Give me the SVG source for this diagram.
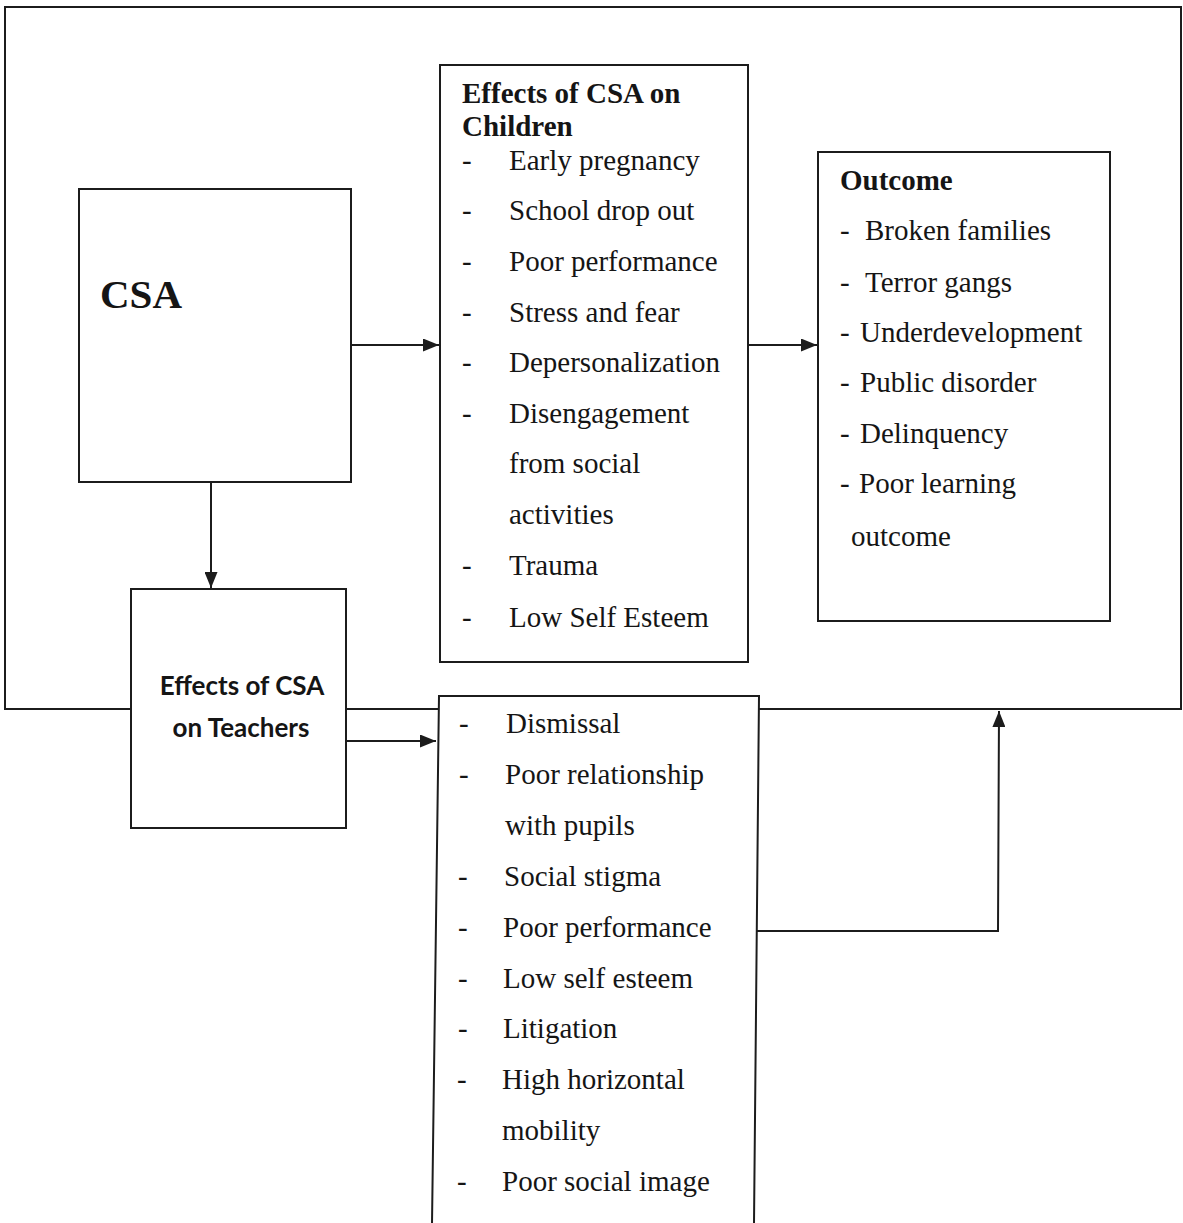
<svg xmlns="http://www.w3.org/2000/svg" width="1183" height="1223" viewBox="0 0 1183 1223">
<style>
.box{fill:#fff;stroke:#1c1c1c;stroke-width:2}
.ln{fill:none;stroke:#1c1c1c;stroke-width:2}
.t{font-family:"Liberation Serif","Times New Roman",serif;font-size:29px;fill:#151515}
.b{font-weight:bold}
.s{font-family:Lato,"Open Sans",sans-serif;font-weight:bold;font-size:26px;fill:#151515}
</style>
<defs>
<marker id="ah" viewBox="0 0 16 13" refX="16" refY="6.5" markerWidth="16" markerHeight="13" markerUnits="userSpaceOnUse" orient="auto">
<path d="M0,0 L16,6.5 L0,13 Z" fill="#1c1c1c"/>
</marker>
</defs>
<rect width="1183" height="1223" fill="#fff"/>
<rect id="frame" class="ln" x="5" y="7" width="1176" height="702"/>
<g id="connectors">
<line class="ln" x1="351" y1="345" x2="439" y2="345" marker-end="url(#ah)"/>
<line class="ln" x1="748" y1="345" x2="817" y2="345" marker-end="url(#ah)"/>
<line class="ln" x1="211" y1="482" x2="211" y2="588" marker-end="url(#ah)"/>
<line class="ln" x1="346" y1="741" x2="436" y2="741" marker-end="url(#ah)"/>
<path class="ln" d="M756,931 L998,931 L999,711" marker-end="url(#ah)"/>
</g>
<g id="csa">
<rect class="box" x="79" y="189" width="272" height="293"/>
<text class="t b" x="100" y="308" style="font-size:41px">CSA</text>
</g>
<g id="children">
<rect class="box" x="440" y="65" width="308" height="597"/>
<text class="t b" x="462" y="103">Effects of CSA on</text>
<text class="t b" x="462" y="136">Children</text>
<g class="t">
<text x="462" y="170">-</text><text x="509" y="170">Early pregnancy</text>
<text x="462" y="220">-</text><text x="509" y="220">School drop out</text>
<text x="462" y="271">-</text><text x="509" y="271">Poor performance</text>
<text x="462" y="322">-</text><text x="509" y="322">Stress and fear</text>
<text x="462" y="372">-</text><text x="509" y="372">Depersonalization</text>
<text x="462" y="423">-</text><text x="509" y="423">Disengagement</text>
<text x="509" y="473">from social</text>
<text x="509" y="524">activities</text>
<text x="462" y="575">-</text><text x="509" y="575">Trauma</text>
<text x="462" y="627">-</text><text x="509" y="627">Low Self Esteem</text>
</g>
</g>
<g id="outcome">
<rect class="box" x="818" y="152" width="292" height="469"/>
<text class="t b" x="840" y="190">Outcome</text>
<g class="t">
<text x="840" y="240">-</text><text x="865" y="240">Broken families</text>
<text x="840" y="292">-</text><text x="865" y="292">Terror gangs</text>
<text x="840" y="342">-</text><text x="860" y="342">Underdevelopment</text>
<text x="840" y="392">-</text><text x="860" y="392">Public disorder</text>
<text x="840" y="443">-</text><text x="860" y="443">Delinquency</text>
<text x="840" y="493">-</text><text x="859" y="493">Poor learning</text>
<text x="851" y="546">outcome</text>
</g>
</g>
<g id="teachers">
<rect class="box" x="131" y="589" width="215" height="239"/>
<text class="s" x="242" y="695" text-anchor="middle">Effects of CSA</text>
<text class="s" x="241" y="737" text-anchor="middle">on Teachers</text>
</g>
<g id="teacher-effects">
<path class="box" d="M432,1224 L439,696 L759,696 L754,1224"/>
<g class="t">
<text x="459" y="733">-</text><text x="506" y="733">Dismissal</text>
<text x="459" y="784">-</text><text x="505" y="784">Poor relationship</text>
<text x="505" y="835">with pupils</text>
<text x="458" y="886">-</text><text x="504" y="886">Social stigma</text>
<text x="458" y="937">-</text><text x="503" y="937">Poor performance</text>
<text x="458" y="988">-</text><text x="503" y="988">Low self esteem</text>
<text x="458" y="1038">-</text><text x="503" y="1038">Litigation</text>
<text x="457" y="1089">-</text><text x="502" y="1089">High horizontal</text>
<text x="502" y="1140">mobility</text>
<text x="457" y="1191">-</text><text x="502" y="1191">Poor social image</text>
</g>
</g>
</svg>
